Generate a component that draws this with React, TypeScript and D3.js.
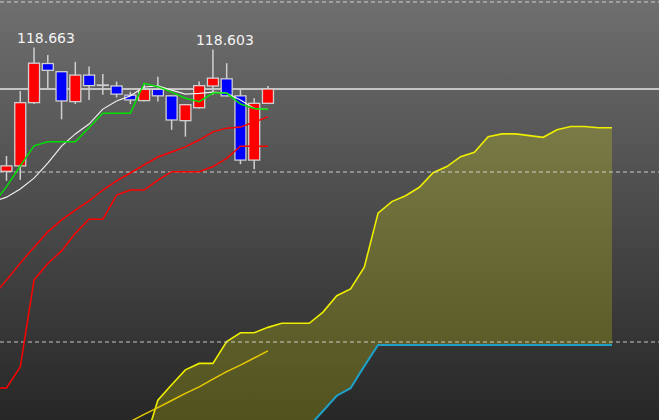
import React from 'react';
import * as d3 from 'd3';

const W = 659;
const H = 420;

// Candles (index 0..19)
const candleOpen = [115.02, 115.18, 117.04, 118.19, 117.95, 117.07, 117.85, 117.56, 117.53, 117.26, 117.10, 117.43, 117.24, 116.51, 116.89, 117.53, 117.74, 117.24, 115.35, 117.02];
const candleHigh = [115.47, 117.38, 118.663, 118.44, 117.96, 118.24, 118.10, 117.88, 117.66, 117.36, 117.61, 117.80, 117.26, 116.99, 117.66, 118.603, 118.20, 117.41, 117.17, 117.53];
const candleLow = [114.74, 114.77, 117.00, 117.46, 116.55, 117.00, 117.12, 117.27, 117.19, 117.00, 117.07, 117.07, 116.24, 116.04, 116.87, 117.27, 117.22, 115.23, 115.08, 117.00];
const candleClose = [115.18, 117.04, 118.20, 117.99, 117.09, 117.85, 117.54, 117.55, 117.29, 117.12, 117.43, 117.24, 116.53, 116.98, 117.54, 117.76, 117.24, 115.35, 117.02, 117.44];

// Indicator lines, index -1..19
const greenLine = [114.04, 114.57, 115.18, 115.77, 115.89, 115.89, 115.89, 116.31, 116.73, 116.73, 116.73, 117.61, 117.51, 117.35, 117.17, 117.07, 117.32, 117.32, 117.0, 116.87, 116.84];
const whiteLine = [114.12, 114.26, 114.5, 114.82, 115.26, 115.76, 116.12, 116.41, 116.85, 117.09, 117.24, 117.5, 117.53, 117.41, 117.29, 117.31, 117.35, 117.32, 117.12, 116.87, 116.84];
const redUpperLine = [111.35, 111.82, 112.32, 112.79, 113.24, 113.59, 113.88, 114.15, 114.47, 114.74, 114.97, 115.21, 115.44, 115.59, 115.74, 115.94, 116.18, 116.29, 116.32, 116.47, 116.62];
const redLowerLine = [108.65, 108.65, 109.27, 111.82, 112.31, 112.68, 113.2, 113.61, 113.61, 114.32, 114.47, 114.47, 114.76, 115.01, 115.01, 115.01, 115.16, 115.4, 115.76, 115.76, 115.76];

// Thin gold line, index 9..19
const goldLine = [107.66, 107.87, 108.07, 108.28, 108.49, 108.68, 108.91, 109.13, 109.32, 109.53, 109.74];

// Cloud spans, index 10..44
const spanA = [106.97, 108.29, 108.74, 109.18, 109.37, 109.37, 110.01, 110.27, 110.27, 110.43, 110.55, 110.55, 110.55, 110.88, 111.36, 111.56, 112.2, 113.79, 114.13, 114.3, 114.55, 114.98, 115.16, 115.45, 115.58, 116.04, 116.12, 116.12, 116.07, 116.02, 116.24, 116.34, 116.34, 116.3, 116.3];
const spanB = [105.9, 106.0, 106.1, 106.2, 106.3, 106.4, 106.5, 106.6, 106.6, 106.7, 106.8, 107.1, 107.53, 107.97, 108.42, 108.64, 109.29, 109.91, 109.91, 109.91, 109.91, 109.91, 109.91, 109.91, 109.91, 109.91, 109.91, 109.91, 109.91, 109.91, 109.91, 109.91, 109.91, 109.91, 109.91];

const gridLevels = [120, 115, 110];
const labelIndices = [2, 15];

export default function App() {
  const x = d3.scaleLinear().domain([0, 44]).range([6.5, 612]);
  const y = d3.scaleLinear().domain([110, 120]).range([342, 2]);

  const lineGen = (start: number) =>
    d3
      .line<number>()
      .x((_, i) => x(i + start))
      .y((d) => y(d));

  const cloudArea = d3
    .area<number>()
    .x((_, i) => x(i + 10))
    .y0((_, i) => y(spanB[i]))
    .y1((d) => y(d));

  const lastClose = candleClose[candleClose.length - 1];
  const bodyW = 11;

  return (
    <svg
      width={W}
      height={H}
      style={{ position: 'absolute', left: 0, top: 0, display: 'block' }}
      fontFamily="DejaVu Sans, sans-serif"
    >
      <defs>
        <linearGradient id="bg" x1="0" y1="0" x2="0" y2="1">
          <stop offset="0" stopColor="#6f6f6f" />
          <stop offset="1" stopColor="#272727" />
        </linearGradient>
        <clipPath id="clip">
          <rect x={0} y={0} width={W} height={H} />
        </clipPath>
      </defs>
      <rect x={0} y={0} width={W} height={H} fill="url(#bg)" />
      <g clipPath="url(#clip)">
        {/* cloud */}
        <path d={cloudArea(spanA) || ''} fill="rgba(255,255,0,0.2)" stroke="none" />
        <path d={lineGen(10)(spanA) || ''} fill="none" stroke="#eeee00" strokeWidth={1.6} />
        <path d={lineGen(10)(spanB) || ''} fill="none" stroke="#1ea0c8" strokeWidth={2} />
        <path d={lineGen(9)(goldLine) || ''} fill="none" stroke="#e6c800" strokeWidth={1.5} />

        {/* grid */}
        {gridLevels.map((g) => (
          <line
            key={g}
            x1={0}
            x2={W}
            y1={y(g)}
            y2={y(g)}
            stroke="rgba(225,225,225,0.85)"
            strokeWidth={1}
            strokeDasharray="4,3"
          />
        ))}

        {/* current price */}
        <line x1={0} x2={W} y1={y(lastClose)} y2={y(lastClose)} stroke="#e4e4e4" strokeWidth={1.5} />

        {/* candles */}
        {candleOpen.map((o, i) => {
          const c = candleClose[i];
          const up = c >= o;
          const top = y(Math.max(o, c));
          const bot = y(Math.min(o, c));
          const cx = x(i);
          return (
            <g key={i}>
              <line x1={cx} x2={cx} y1={y(candleHigh[i])} y2={y(candleLow[i])} stroke="#cfcfcf" strokeWidth={1.5} />
              <rect
                x={cx - bodyW / 2}
                y={top}
                width={bodyW}
                height={Math.max(0.5, bot - top)}
                fill={up ? '#ff0000' : '#0000ff'}
                stroke="#d0d0d0"
                strokeWidth={1.3}
              />
            </g>
          );
        })}

        {/* indicator lines */}
        <path d={lineGen(-1)(redLowerLine) || ''} fill="none" stroke="#ff0000" strokeWidth={1.5} />
        <path d={lineGen(-1)(redUpperLine) || ''} fill="none" stroke="#ff0000" strokeWidth={1.5} />
        <path d={lineGen(-1)(whiteLine) || ''} fill="none" stroke="#eeeeee" strokeWidth={1.2} />
        <path d={lineGen(-1)(greenLine) || ''} fill="none" stroke="#00e000" strokeWidth={1.5} />

        {/* labels */}
        {labelIndices.map((i) => (
          <text key={i} x={x(i) - 17} y={y(candleHigh[i]) - 4} fill="#f4f4f4" fontSize={14}>
            {candleHigh[i].toFixed(3)}
          </text>
        ))}
      </g>
    </svg>
  );
}
